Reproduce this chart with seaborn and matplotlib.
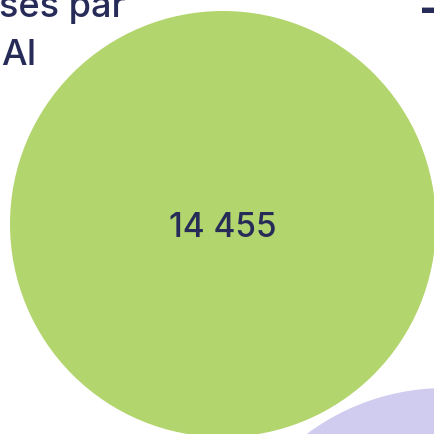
import numpy as np
import pandas as pd
import matplotlib
matplotlib.use("Agg")
import matplotlib.pyplot as plt
import seaborn as sns

# bulles (valeurs = surface), positions en pixels du cadrage
labels = ["A", "B"]
values = [14455, 17000]
cx = [223, 445]
cy = [225, 620]
colors = ["#b3d56e", "#d0ccf0"]
title_lines = ["ses par", "AI"]

NAVY = "#262b58"
SCALE = 213 / np.sqrt(14455)  # rayon en px par racine de valeur

df = pd.DataFrame({"label": labels, "value": values, "x": cx, "y": cy})
df["r"] = SCALE * np.sqrt(df["value"])
# taille du marqueur en points^2 (1 px = 0.72 pt a 100 dpi)
df["s"] = (2 * df["r"] * 0.72) ** 2

sns.set_theme(style="white")
plt.rcParams["font.family"] = ["Inter", "DejaVu Sans"]

fig = plt.figure(figsize=(4.35, 4.35), dpi=100)
ax = fig.add_axes([0, 0, 1, 1])

sns.scatterplot(data=df, x="x", y="y", hue="label", size="label",
                palette=dict(zip(labels, colors)),
                sizes=dict(zip(df["label"], df["s"])),
                linewidth=0, legend=False, ax=ax, clip_on=True)

ax.text(df["x"][0], df["y"][0] + 12, "14 455", ha="center", va="baseline",
        fontsize=24, color=NAVY, fontweight="medium")

ax.text(-1, 17, title_lines[0], ha="left", va="baseline", fontsize=26,
        color=NAVY, fontweight="medium")
ax.text(1, 65, title_lines[1], ha="left", va="baseline", fontsize=26,
        color=NAVY, fontweight="medium")
ax.text(422, 24, "–", ha="left", va="baseline", fontsize=34,
        color=NAVY, fontweight="bold")

ax.set_xlim(0, 435)
ax.set_ylim(435, 0)
ax.set_axis_off()

fig.savefig("out.png", dpi=100)
